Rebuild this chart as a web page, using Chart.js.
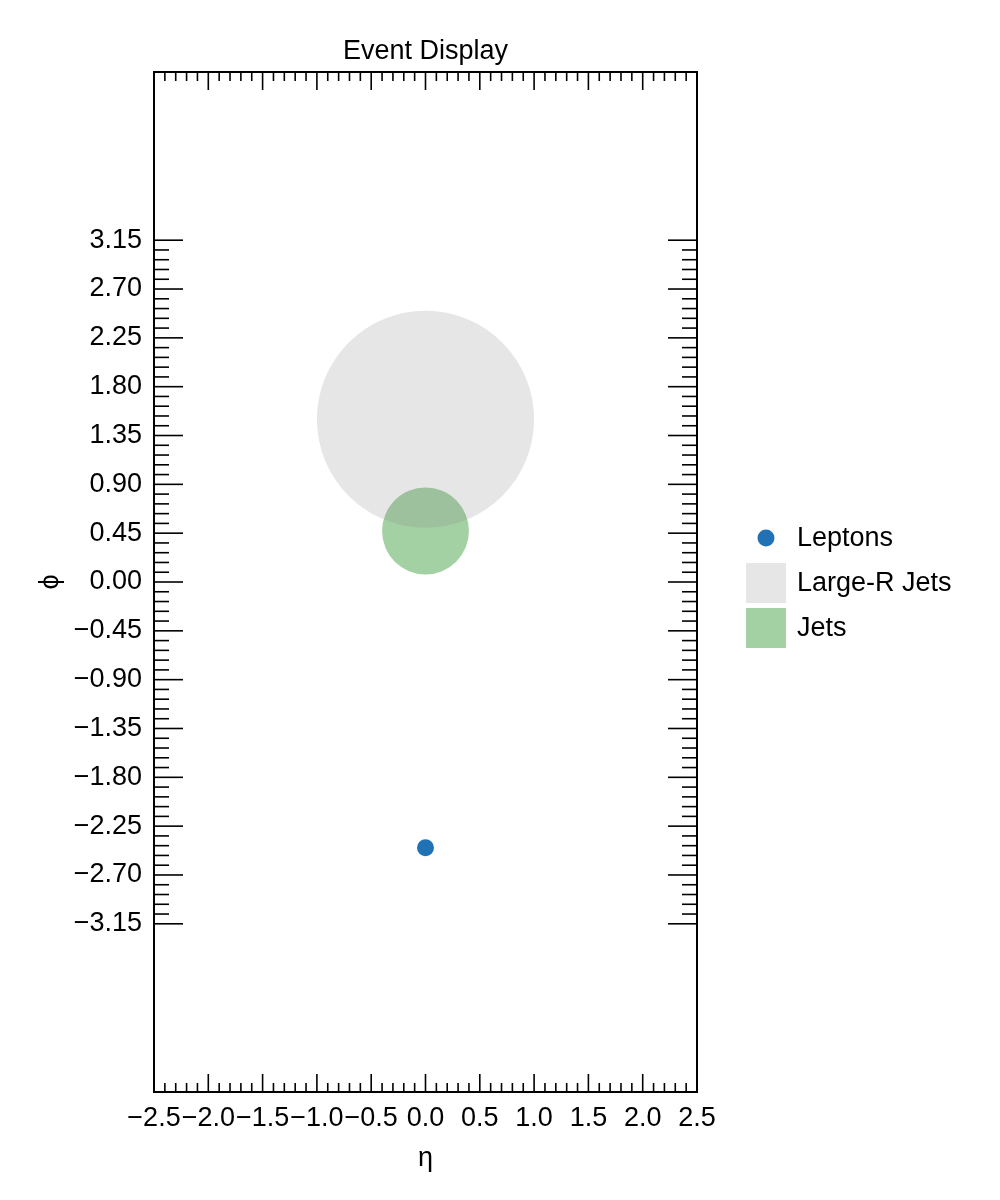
<!DOCTYPE html>
<html>
<head>
<meta charset="utf-8">
<script src="https://cdn.jsdelivr.net/npm/chart.js@4"></script>
<style>
  html, body { margin: 0; padding: 0; background: #fff; }
  #wrap { width: 1000px; height: 1200px; }
</style>
</head>
<body>
<div id="wrap"><canvas id="myChart" width="1000" height="1200"></canvas></div>
<script>
// event contents (eta, phi, radius in eta-phi units)
const lepEta = [0.0];
const lepPhi = [-2.45];
const largeREta = [0.0];
const largeRPhi = [1.5];
const largeRR = [1.0];
const jetEta = [0.0];
const jetPhi = [0.47];
const jetR = [0.4];

// axis ticks
const xTicks = [-2.5, -2.0, -1.5, -1.0, -0.5, 0.0, 0.5, 1.0, 1.5, 2.0, 2.5];
const yTicks = [-3.15, -2.70, -2.25, -1.80, -1.35, -0.90, -0.45, 0.00, 0.45, 0.90, 1.35, 1.80, 2.25, 2.70, 3.15];

const FONT = "'Liberation Sans', Arial, Helvetica, sans-serif";
const fmt = (v, d) => {
  const s = Math.abs(v).toFixed(d);
  return (v < 0 && Number(s) !== 0 ? '\u2212' : '') + s;
};

// radius in data units -> pixels via the x scale
const dataRadius = ctx => {
  const s = ctx.chart.scales.x;
  if (!s || !ctx.raw) return 0;
  return Math.abs(s.getPixelForValue(ctx.raw.dr) - s.getPixelForValue(0));
};

// ticks on all four sides, pointing in, with minor ticks
const hepTicks = {
  id: 'hepTicks',
  afterDraw(chart) {
    const {ctx, chartArea: a, scales: {x, y}} = chart;
    ctx.save();
    ctx.strokeStyle = '#000';
    const seg = (x1, y1, x2, y2, w) => {
      ctx.lineWidth = w;
      ctx.beginPath(); ctx.moveTo(x1, y1); ctx.lineTo(x2, y2); ctx.stroke();
    };
    // x minor / major
    for (let i = 0; i <= 50; i++) {
      const v = -2.5 + i * 0.1;
      const px = x.getPixelForValue(v);
      const major = i % 5 === 0;
      const len = major ? 18 : 9;
      seg(px, a.bottom, px, a.bottom - len, 1.6);
      seg(px, a.top, px, a.top + len, 1.6);
    }
    // y minor / major
    for (let i = 0; i <= 70; i++) {
      const v = -3.15 + i * 0.09;
      const py = y.getPixelForValue(v);
      const major = i % 5 === 0;
      const len = major ? 29 : 15;
      seg(a.left, py, a.left + len, py, 1.6);
      seg(a.right, py, a.right - len, py, 1.6);
    }
    ctx.lineWidth = 2;
    ctx.strokeRect(a.left, a.top, a.right - a.left, a.bottom - a.top);
    ctx.restore();
  }
};

// legend to the right of the frame
const sideLegend = {
  id: 'sideLegend',
  afterDraw(chart) {
    const {ctx} = chart;
    ctx.save();
    ctx.font = '27px ' + FONT;
    ctx.textBaseline = 'middle';
    ctx.fillStyle = '#000';
    chart.data.datasets.forEach((ds, i) => {
      const cy = 538 + i * 45;
      ctx.fillStyle = ds.backgroundColor;
      if (i === 0) {
        ctx.beginPath(); ctx.arc(766, cy, 8.5, 0, Math.PI * 2); ctx.fill();
      } else {
        ctx.fillRect(746, cy - 20, 40, 40);
      }
      ctx.fillStyle = '#000';
      ctx.fillText(ds.label, 797, cy + 1);
    });
    ctx.restore();
  }
};

new Chart(document.getElementById('myChart').getContext('2d'), {
  type: 'scatter',
  data: {
    datasets: [
      {
        label: 'Leptons',
        data: lepEta.map((e, i) => ({x: e, y: lepPhi[i]})),
        backgroundColor: '#2171b5',
        borderWidth: 0,
        pointRadius: 8.5,
        pointHoverRadius: 8.5
      },
      {
        label: 'Large-R Jets',
        data: largeREta.map((e, i) => ({x: e, y: largeRPhi[i], dr: largeRR[i]})),
        backgroundColor: 'rgba(128,128,128,0.2)',
        borderWidth: 0,
        pointRadius: dataRadius,
        pointHoverRadius: dataRadius
      },
      {
        label: 'Jets',
        data: jetEta.map((e, i) => ({x: e, y: jetPhi[i], dr: jetR[i]})),
        backgroundColor: 'rgba(0,128,0,0.36)',
        borderWidth: 0,
        pointRadius: dataRadius,
        pointHoverRadius: dataRadius
      }
    ]
  },
  options: {
    responsive: false,
    animation: false,
    events: [],
    layout: { padding: { top: 0, left: 0, right: 303, bottom: 0 } },
    plugins: {
      legend: { display: false },
      tooltip: { enabled: false },
      title: {
        display: true,
        text: 'Event Display',
        fullSize: false,
        color: '#000',
        font: { family: FONT, size: 27, weight: 'normal', lineHeight: 1.2 },
        padding: { top: 35, bottom: 4.6 }
      }
    },
    scales: {
      x: {
        type: 'linear',
        min: -2.5,
        max: 2.5,
        afterBuildTicks: s => { s.ticks = xTicks.map(v => ({value: v})); },
        afterFit: s => { s.height = 108; },
        grid: { display: false, drawTicks: false },
        border: { display: false },
        ticks: {
          autoSkip: false, maxRotation: 0, minRotation: 0,
          padding: 10, color: '#000',
          font: { family: FONT, size: 27 },
          callback: v => fmt(v, 1)
        },
        title: {
          display: true, text: 'η', color: '#000',
          font: { family: FONT, size: 27, lineHeight: 1.2 },
          padding: { top: 0, bottom: 25 }
        }
      },
      y: {
        type: 'linear',
        min: -4.7,
        max: 4.7,
        afterBuildTicks: s => { s.ticks = yTicks.map(v => ({value: v})); },
        afterFit: s => { s.width = 154; },
        grid: { display: false, drawTicks: false },
        border: { display: false },
        ticks: {
          autoSkip: false,
          padding: 12, color: '#000',
          font: { family: FONT, size: 27 },
          callback: v => fmt(v, 2)
        },
        title: {
          display: true, text: 'ϕ', color: '#000',
          font: { family: FONT, size: 27, lineHeight: 1.2 },
          padding: { top: 34, bottom: 0 }
        }
      }
    }
  },
  plugins: [hepTicks, sideLegend]
});
</script>
</body>
</html>
